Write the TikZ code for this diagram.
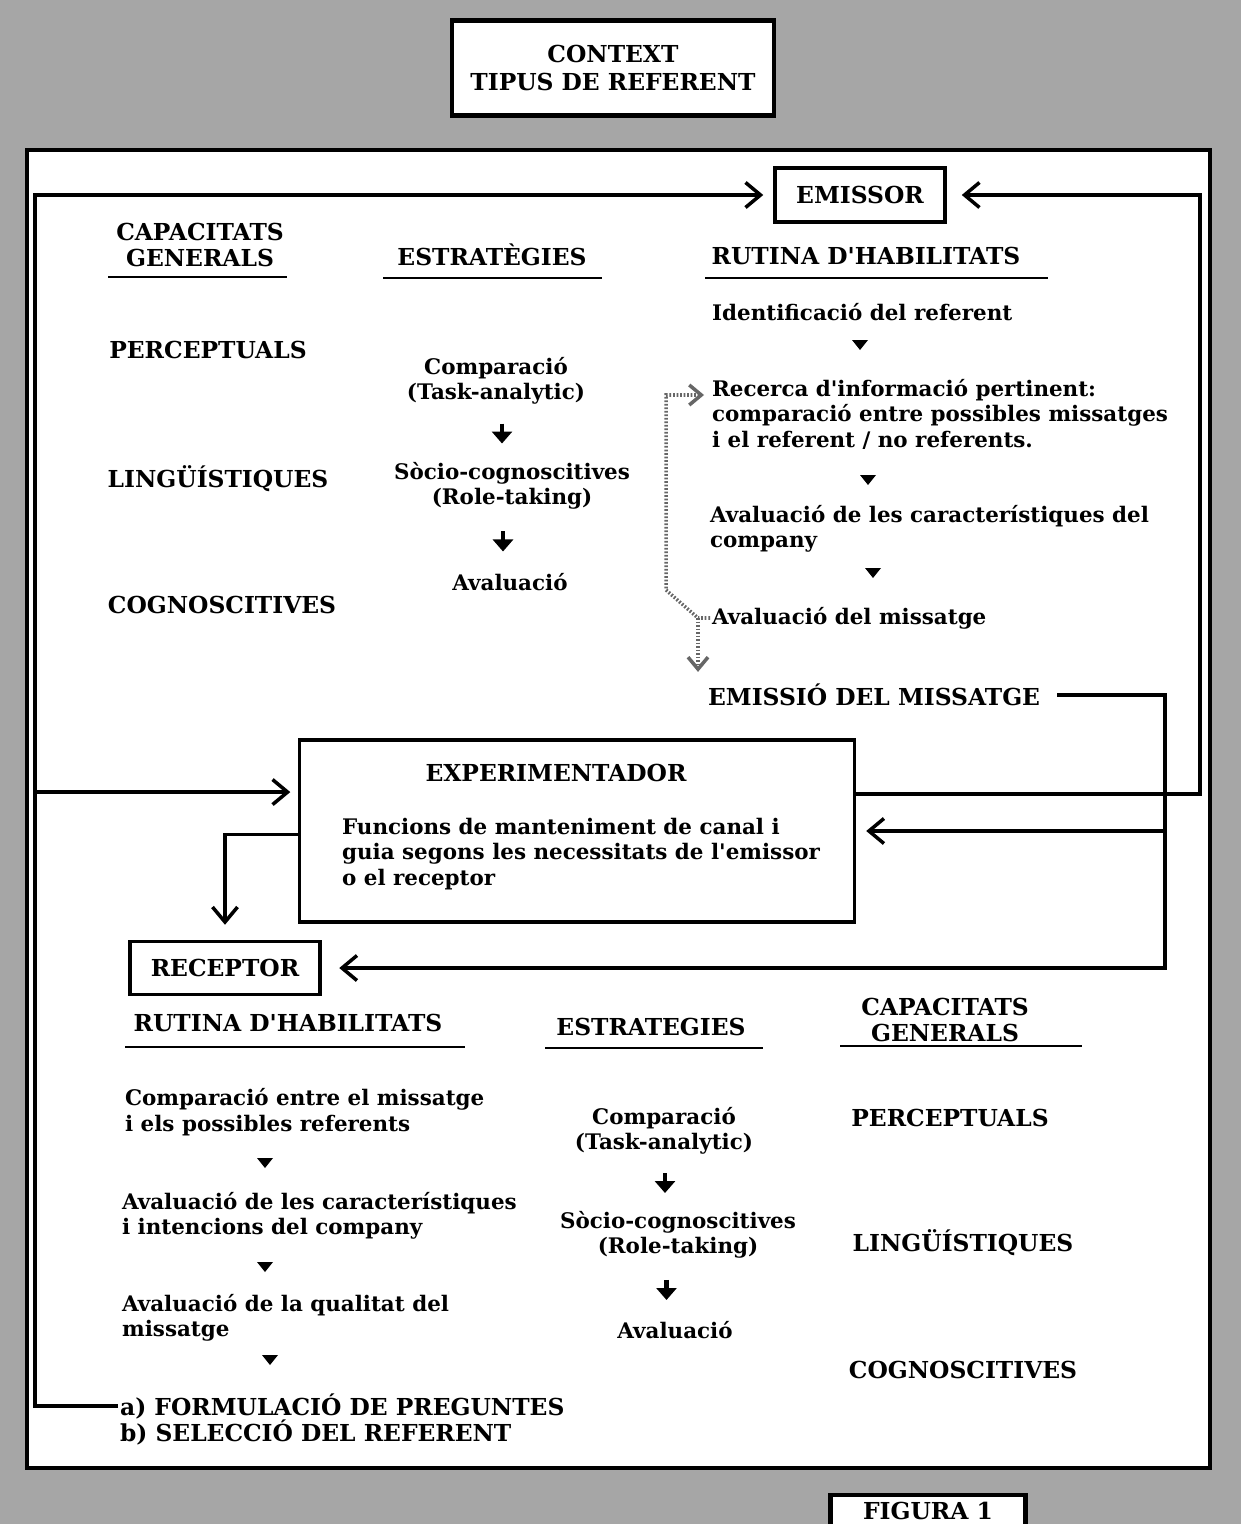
\documentclass[tikz,border=0pt]{standalone}
\usepackage{fontspec}
\setmainfont{DejaVu Serif}
\usetikzlibrary{positioning,arrows.meta,shapes.geometric,calc}
\tikzset{
  box/.style={draw=black,fill=white,line width=2pt,align=center,inner sep=2pt,
              font=\bfseries\fontsize{13.3}{14.5}\selectfont},
  boxthick/.style={box,line width=2.4pt},
  hd/.style={font=\bfseries\fontsize{13.3}{14.5}\selectfont,align=center,inner sep=1pt},
  txt/.style={font=\bfseries\fontsize{12.2}{14.5}\selectfont,align=left,inner sep=1pt},
  ctr/.style={txt,align=center},
  conn/.style={line width=2pt},
  connarr/.style={conn,-{Straight Barb[length=3mm,width=5mm]}},
  uline/.style={line width=1.2pt},
  sarr/.style={line width=2.4pt,-{Triangle[length=2.4mm,width=4mm]}},
  dotline/.style={draw=black!60,line width=2pt,dash pattern=on 1pt off 1pt},
  dotarr/.style={dotline,-{Straight Barb[length=2.4mm,width=4mm]}}
}
\newcommand{\tri}[1]{\fill (#1) ++(-8,-5) -- ++(16,0) -- ++(-8,10) -- cycle;}
\newcommand{\ap}{\textquotesingle}

\begin{document}
\begin{tikzpicture}[x=0.02cm,y=-0.02cm]
\useasboundingbox (0,0) rectangle (1241,1524);
\fill[black!35] (0,0) rectangle (1241,1524);
\draw[line width=2.4pt,fill=white] (27,150) rectangle (1210,1468);

% boxes
\node[boxthick,minimum width=6.44cm,minimum height=1.9cm,
      font=\bfseries\fontsize{13.3}{16.5}\selectfont] (ctx) at (613,68) {CONTEXT\\TIPUS DE REFERENT};
\node[box,minimum width=3.4cm,minimum height=1.08cm] (emis) at (860,195) {EMISSOR};
\node[box,minimum width=11.1cm,minimum height=3.64cm] (exp) at (577,831) {};
\node[box,minimum width=3.8cm,minimum height=1.06cm] (rec) at (225,968) {RECEPTOR};
\node[boxthick,minimum width=3.9cm,minimum height=0.64cm] (fig) at (928,1511) {FIGURA 1};

% emissor
\node[hd] (capE) at (200,245) {CAPACITATS\\GENERALS};
\node[hd] (estE) at (492,255) {ESTRATÈGIES};
\node[hd] (rutE) at (866,256) {RUTINA D\ap HABILITATS};
\draw[uline] (108,277) -- (287,277);
\draw[uline] (383,278) -- (602,278);
\draw[uline] (705,278) -- (1048,278);

\node[hd] (perE) at (208,350) {PERCEPTUALS};
\node[hd] (linE) at (218,479) {LINGÜÍSTIQUES};
\node[hd] (cogE) at (222,605) {COGNOSCITIVES};

\node[ctr] (cmpE) at (496,381) {Comparació\\(Task-analytic)};
\node[ctr] (socE) at (512,486) {Sòcio-cognoscitives\\(Role-taking)};
\node[ctr] (avaE) at (510,582) {Avaluació};
\draw[sarr] ($(cmpE.south)!0.5!(socE.north)+(-2,-10)$) -- ++(0,20);
\draw[sarr] ($(socE.south)!0.5!(avaE.north)+(-8,-10)$) -- ++(0,20);

\node[txt,anchor=west] (idE) at (710,312) {Identificació del referent};
\node[txt,anchor=west] (rcrE) at (710,414) {Recerca d\ap informació pertinent:\\comparació entre possibles missatges\\i el referent / no referents.};
\node[txt,anchor=west] (avcE) at (708,529) {Avaluació de les característiques del\\company};
\node[txt,anchor=west] (avmE) at (710,618) {Avaluació del missatge};
\node[hd,anchor=west] (emiE) at (706,695) {EMISSIÓ DEL MISSATGE};
\tri{860,345}
\tri{868,480}
\tri{873,573}

% experimentador
\node[hd] (expT) at (556,773) {EXPERIMENTADOR};
\node[txt,anchor=west] (expB) at (340,854) {Funcions de manteniment de canal i\\guia segons les necessitats de l\ap emissor\\o el receptor};

% receptor
\node[hd] (rutR) at (288,1023) {RUTINA D\ap HABILITATS};
\node[hd] (estR) at (651,1027) {ESTRATEGIES};
\node[hd] (capR) at (945,1020) {CAPACITATS\\GENERALS};
\draw[uline] (125,1047) -- (465,1047);
\draw[uline] (545,1048) -- (763,1048);
\draw[uline] (840,1046) -- (1082,1046);

\node[txt,anchor=west] (cmpR) at (123,1112) {Comparació entre el missatge\\i els possibles referents};
\node[txt,anchor=west] (avcR) at (120,1216) {Avaluació de les característiques\\i intencions del company};
\node[txt,anchor=west] (avqR) at (120,1318) {Avaluació de la qualitat del\\missatge};
\node[hd,anchor=west] (qa) at (118,1406) {a) FORMULACIÓ DE PREGUNTES};
\node[hd,anchor=west] (qb) at (118,1432) {b) SELECCIÓ DEL REFERENT};
\tri{265,1163}
\tri{265,1267}
\tri{270,1360}

\node[ctr] (cmpR2) at (664,1131) {Comparació\\(Task-analytic)};
\node[ctr] (socR) at (678,1235) {Sòcio-cognoscitives\\(Role-taking)};
\node[ctr] (avaR) at (675,1330) {Avaluació};
\draw[sarr] ($(cmpR2.south)!0.5!(socR.north)+(-6,-10)$) -- ++(0,20);
\draw[sarr] ($(socR.south)!0.5!(avaR.north)+(-10,-10)$) -- ++(0,20);

\node[hd] (perR) at (950,1118) {PERCEPTUALS};
\node[hd] (linR) at (963,1243) {LINGÜÍSTIQUES};
\node[hd] (cogR) at (963,1370) {COGNOSCITIVES};

% connectors
\coordinate (lft) at (35,0);
\coordinate (rgt) at (1200,0);
\coordinate (mid) at (1165,0);
\coordinate (expin) at ($(exp.north west)!0.29!(exp.south west)$);
\coordinate (expout) at ($(exp.north west)!0.52!(exp.south west)$);
\coordinate (expr) at ($(exp.north east)!0.3!(exp.south east)$);
\draw[connarr,shorten >=0.2cm] (qa.west) -| (lft |- emis.west) -- (emis.west);
\draw[connarr,shorten >=0.15cm] (lft |- expin) -- (expin);
\draw[connarr,shorten >=0.3cm] (expout) -| (rec.north);
\draw[connarr,shorten >=0.3cm] (expr) -| (rgt |- emis.east) -- (emis.east);
\draw[connarr,shorten >=0.35cm] ($(emiE.east)+(15,0)$) -| (mid |- rec.east) -- (rec.east);
\draw[connarr,shorten >=0.2cm] (mid |- exp.east) -- (exp.east);

% feedback (dotted)
\coordinate (dj) at ($(avmE.west)+(-12,0)$);
\draw[dotarr] (avmE.west) -- (dj) -- ($(dj)+(-32,-28)$) |- ($(rcrE.west)+(-6,-19)$);
\draw[dotarr,shorten >=0.2cm] (dj) -- (dj |- emiE.north);
\end{tikzpicture}
\end{document}
